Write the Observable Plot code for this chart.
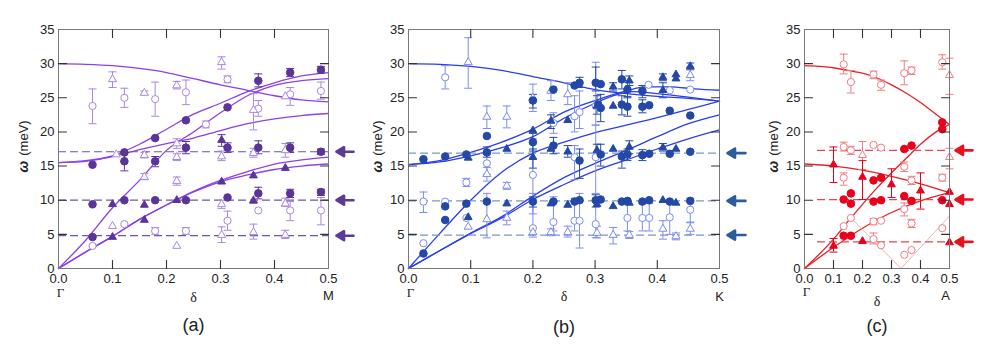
<!DOCTYPE html>
<html><head><meta charset="utf-8">
<script src="https://cdn.jsdelivr.net/npm/d3@7"></script>
<script src="https://cdn.jsdelivr.net/npm/@observablehq/plot@0.6"></script>
<style>
body{margin:0;background:#fff;}
#wrap{position:relative;width:988px;height:346px;overflow:hidden;background:#fff;}
#wrap svg{position:absolute;top:0;overflow:visible;}
</style></head><body><div id="wrap"></div>
<script>
// ---------- shared axis values ----------
const xTicks = [0, 0.1, 0.2, 0.3, 0.4, 0.5];
const yTicks = [0, 5, 10, 15, 20, 25, 30, 35];
const xInner = [0.1, 0.2, 0.3, 0.4];
const yInner = [5, 10, 15, 20, 25, 30];

// ---------- panel (a): Γ–M ----------  points: [δ, ω, errLow, errHigh]
const aFilledCircle = [[0.063,15.2],[0.122,17.0],[0.122,15.7,14.3,16.9],[0.179,19.1],[0.179,15.7,14.9,16.4],[0.236,21.7],[0.236,17.7,16.8,18.6],[0.313,23.6],[0.313,17.7,17.0,18.4],[0.370,27.5,26.6,28.5],[0.370,17.7,16.8,18.7],[0.429,28.7,28.1,29.3],[0.429,17.7,17.0,18.4],[0.486,29.1,28.6,29.6],[0.486,17.1,16.7,17.5],
  [0.063,9.4],[0.063,4.6],[0.122,10.0],[0.179,10.0],[0.236,10.0],[0.313,10.4],[0.370,11.0,10.2,11.9],[0.429,11.0,10.4,11.6],[0.486,11.2,10.7,11.6]];
const aFilledTriangle = [[0.100,9.4],[0.159,9.3],[0.159,7.1],[0.100,4.6],[0.219,10.0],[0.302,12.7],[0.361,13.6],[0.420,14.7],[0.361,9.9],[0.302,18.8,17.9,19.6]];
const aOpenCircle = [[0.063,23.8,21.2,26.3],[0.122,25.0,23.6,26.4],[0.179,24.8,22.3,27.3],[0.236,25.8,24.0,27.6],[0.313,27.7,27.2,28.2],[0.370,23.4,22.3,24.6],[0.429,25.5,23.9,26.5],[0.486,26.0,24.8,27.3],[0.273,21.1,20.6,21.6],
  [0.063,3.3],[0.122,6.5],[0.179,5.5,5.0,6.0],[0.236,5.5,5.0,6.0],[0.370,8.5],[0.313,7.0,5.6,8.4],[0.429,8.5,7.0,9.8],[0.486,8.5,6.4,10.4]];
const aOpenTriangle = [[0.100,27.7,26.5,28.8],[0.159,25.7,25.5,26.0],[0.219,26.8,26.3,27.4],[0.302,30.2,29.2,31.0],[0.361,23.2,20.3,25.6],[0.420,25.2],[0.159,16.6,16.2,17.0],[0.219,16.3,15.8,16.8],[0.219,18.3,17.6,19.0],[0.302,16.4,15.8,17.2],[0.361,16.9,16.3,17.6],[0.420,17.3,16.3,18.3],[0.107,16.7],
  [0.159,13.4,13.0,13.9],[0.219,12.8,12.2,13.4],[0.100,6.2],[0.219,3.3],[0.302,9.4,8.8,10.0],[0.302,4.9,3.8,6.1],[0.361,5.3,4.3,6.5],[0.420,4.9,4.4,5.6],[0.420,9.5,9.1,10.3],[0.361,10.0]];
const aDashLevels = [17.1, 10.0, 4.8];
const aCurveTop = [[0,30],[0.05,29.9],[0.1,29.7],[0.15,29.3],[0.2,28.7],[0.25,27.8],[0.3,26.9],[0.35,26.1],[0.4,25.3],[0.45,24.7],[0.5,24.4]];
const aCurveOptA = [[0,15.5],[0.05,15.7],[0.1,16.5],[0.15,18.2],[0.2,20.4],[0.25,22.6],[0.3,24.2],[0.35,25.9],[0.4,27.2],[0.45,28.2],[0.5,28.7]];
const aCurveOptB = [[0,15.5],[0.05,15.8],[0.1,16.4],[0.15,17.4],[0.2,18.3],[0.25,19.1],[0.3,20.2],[0.35,21.2],[0.4,21.9],[0.45,22.4],[0.5,22.7]];
const aCurveLA = [[0,0],[0.05,4.1],[0.1,8.9],[0.15,12.9],[0.2,17.3],[0.25,20.0],[0.3,22.8],[0.35,25.3],[0.4,26.8],[0.45,27.5],[0.5,27.8]];
const aCurveTA1 = [[0,0],[0.05,2.4],[0.1,4.7],[0.15,7.2],[0.2,9.3],[0.25,11.2],[0.3,12.7],[0.35,13.7],[0.4,14.5],[0.45,15.0],[0.5,15.3]];
const aCurveTA2 = [[0,0],[0.05,2.4],[0.1,4.7],[0.15,7.2],[0.2,9.3],[0.25,11.3],[0.3,12.9],[0.35,14.2],[0.4,15.3],[0.45,15.9],[0.5,16.3]];

// ---------- panel (b): Γ–K ----------
const bFilledCircle = [[0.024,16.0],[0.059,16.4],[0.093,16.7],[0.126,17.0,16.3,17.8],[0.126,19.4],[0.200,24.6,23.5,25.5],[0.200,18.5,17.2,19.8],[0.233,26.2],[0.233,18.0,16.8,19.2],[0.267,26.8],[0.275,27.2,26.5,28.0],[0.275,15.8,13.2,17.5],[0.301,27.2,26.0,29.5],[0.309,27.0],[0.305,24.0],[0.309,23.5,21.5,25.5],[0.309,16.7,15.0,18.2],[0.343,27.7,26.3,29.0],[0.343,24.0,22.5,25.3],[0.352,26.2,25.0,27.5],[0.352,23.7,22.3,25.2],[0.343,16.4,14.7,17.2],[0.352,16.7,15.8,17.5],[0.376,26.0,25.0,26.8],[0.376,23.7,22.8,24.7],[0.387,23.9],[0.376,16.6,15.8,17.4],[0.387,16.8],[0.420,23.1],[0.420,16.8],[0.453,22.4],[0.453,17.1],
  [0.024,2.2],[0.059,7.1],[0.059,9.1],[0.093,9.5],[0.126,9.8],[0.200,9.8,9.0,10.5],[0.233,9.8],[0.267,9.8],[0.275,10.0],[0.301,10.0,9.0,10.8],[0.309,10.1],[0.343,9.8],[0.352,9.9],[0.376,9.8],[0.387,10.0],[0.420,9.8],[0.453,9.9]];
const bFilledTriangle = [[0.096,16.2],[0.158,17.5],[0.200,20.2],[0.200,16.3,14.7,17.5],[0.229,17.5],[0.229,21.6,20.5,22.5],[0.256,17.1,16.3,18.0],[0.256,21.7],[0.303,17.3,16.5,18.2],[0.303,23.8,22.6,25.3],[0.329,17.5],[0.329,23.8],[0.329,26.6,26.0,27.2],[0.355,27.5,26.8,28.2],[0.355,17.8,16.8,18.7],[0.409,28.0,27.5,28.5],[0.409,26.1,25.0,27.2],[0.409,17.7,17.2,18.3],[0.430,28.4],[0.430,27.8],[0.430,17.5],[0.453,29.6,29.1,30.1],
  [0.096,7.5],[0.158,9.5],[0.229,9.5],[0.256,9.3],[0.303,9.4],[0.329,9.1],[0.355,9.6],[0.409,10.0],[0.430,9.6]];
const bOpenCircle = [[0.059,28.0,26.3,29.7],[0.126,15.4,13.8,16.7],[0.200,13.7,8.0,19.0],[0.233,21.3,19.8,22.8],[0.267,22.3,20.0,25.3],[0.275,22.9,20.5,26.0],[0.301,23.8,21.0,30.2],[0.267,16.3,13.0,18.0],[0.301,16.3,11.0,21.0],[0.386,26.9],[0.420,26.1],[0.453,26.2],
  [0.024,9.8,8.2,11.2],[0.024,3.7],[0.059,9.8],[0.093,12.6,12.0,13.2],[0.093,7.4],[0.200,5.9,5.0,11.0],[0.233,6.8,5.5,10.5],[0.267,7.0,5.5,10.3],[0.275,7.0,3.0,11.0],[0.301,6.5,4.5,9.9],[0.352,7.4,5.5,10.0],[0.376,7.4,5.5,9.5],[0.387,7.4,5.5,9.5],[0.420,7.5,5.0,10.0],[0.453,8.6,6.7,10.3]];
const bOpenTriangle = [[0.096,30.2,26.4,33.8],[0.126,22.2,20.5,23.8],[0.158,22.2,20.6,23.8],[0.200,25.0,23.0,27.0],[0.229,26.0,24.6,27.5],[0.256,25.5,24.0,27.2],[0.453,28.3,27.5,29.5],[0.126,13.8,12.8,14.8],
  [0.158,12.1,11.6,12.6],[0.126,7.2,4.5,11.0],[0.158,7.4,6.4,8.4],[0.096,6.1],[0.200,5.3,4.6,6.0],[0.229,5.3,4.8,5.8],[0.256,5.3,4.6,6.2],[0.303,5.2,4.5,6.2],[0.329,4.9,3.6,6.0],[0.355,4.9,4.4,5.4],[0.409,5.8,4.3,7.0],[0.430,4.7,4.2,5.2],[0.453,5.8,5.0,6.8]];
const bDashLevels = [16.9, 9.9, 4.9];
const bCurveTop = [[0,30],[0.05,29.9],[0.1,29.6],[0.15,29.0],[0.2,28.1],[0.25,27.2],[0.3,26.2],[0.35,25.6],[0.4,25.2],[0.45,24.9],[0.5,24.5]];
const bCurveOptA = [[0,15.2],[0.05,15.8],[0.1,17.0],[0.15,18.5],[0.2,20.4],[0.25,22.9],[0.3,24.6],[0.35,26.0],[0.38,26.6],[0.42,26.6],[0.46,26.3],[0.5,26.1]];
const bCurveOptB = [[0,15.2],[0.05,15.6],[0.1,16.5],[0.15,17.7],[0.2,19.3],[0.25,22.0],[0.3,24.2],[0.33,25.3],[0.36,25.9],[0.4,25.6],[0.45,25.1],[0.5,24.5]];
const bCurveLA = [[0,0],[0.05,5.1],[0.1,10.0],[0.15,14.1],[0.2,16.9],[0.25,18.5],[0.3,19.9],[0.35,21.0],[0.4,22.1],[0.45,23.3],[0.5,24.5]];
const bCurveTA1 = [[0,0],[0.05,2.6],[0.1,5.2],[0.15,7.6],[0.2,10.6],[0.25,13.3],[0.3,15.4],[0.35,17.3],[0.4,19.3],[0.45,21.2],[0.5,22.5]];
const bCurveTA2 = [[0,0],[0.05,2.6],[0.1,5.1],[0.15,7.4],[0.2,10.1],[0.25,12.3],[0.3,14.3],[0.35,15.9],[0.4,17.5],[0.45,19.0],[0.5,20.3]];

// ---------- panel (c): Γ–A ----------
const cFilledCircle = [[0.475,21.4],[0.475,20.4],[0.344,17.5],[0.369,18.0],[0.238,12.9],[0.264,13.3],[0.135,10.1],[0.160,11.0],[0.160,9.5],[0.238,9.8],[0.264,10.0],[0.344,10.6],[0.369,9.9],[0.475,10.0],[0.135,4.8],[0.160,4.8]];
const cFilledTriangle = [[0.100,15.2,12.6,17.8],[0.200,13.4,10.1,15.8],[0.300,12.3,10.4,14.6],[0.400,11.4,8.7,14.0],[0.100,3.3,2.4,4.4],[0.200,4.0],[0.500,3.8],[0.500,9.4],[0.500,11.2]];
const cOpenCircle = [[0.135,29.9,28.5,31.4],[0.160,27.3,25.7,29.0],[0.238,28.4,27.8,28.9],[0.264,26.9,26.1,27.6],[0.344,28.6,26.9,30.4],[0.369,29.0,28.4,29.5],[0.475,30.2,29.2,31.3],
  [0.135,17.8,17.2,18.5],[0.160,17.3,16.7,17.9],[0.238,18.1],[0.264,17.7],[0.344,14.9,14.2,15.6],[0.135,13.3,12.2,14.0],[0.369,12.9,12.3,13.5],[0.475,13.3,12.8,13.8],
  [0.135,6.2],[0.160,7.4],[0.238,6.9,6.4,7.3],[0.264,7.0],[0.344,8.7,7.7,9.6],[0.369,6.6,6.0,7.2],[0.475,5.9],[0.238,4.3,3.6,5.2],[0.264,3.4],[0.344,2.0],[0.369,2.7]];
const cOpenTriangle = [[0.200,16.6,14.5,18.6],[0.500,28.3,25.5,30.8],[0.500,16.3,14.6,17.6]];
const cDashLevels = [17.3, 10.1, 3.9];
const cCurveTop = [[0,29.7],[0.05,29.6],[0.1,29.4],[0.15,29.0],[0.2,28.6],[0.25,27.9],[0.3,26.9],[0.35,25.7],[0.4,24.3],[0.45,22.7],[0.5,21.1]];
const cCurveRise = [[0,0],[0.1,4.3],[0.15,6.9],[0.2,9.4],[0.25,11.8],[0.3,14.0],[0.35,16.1],[0.4,18.2],[0.45,19.9],[0.5,21.1]];
const cCurveMid = [[0,15.3],[0.1,15.0],[0.2,14.4],[0.3,13.5],[0.4,12.4],[0.5,11.1]];
const cCurveLow = [[0,0],[0.1,3.1],[0.2,5.9],[0.3,8.2],[0.4,9.9],[0.5,11.1]];
const cThinV = [[0.16,7.4],[0.333,0],[0.5,7.7]];

// ---------- drawing ----------
const FONT = "'Liberation Sans', Arial, Helvetica, sans-serif";
const SERIF = "'Liberation Serif', 'Times New Roman', serif";
const pts = arr => arr.map(([x, y, lo, hi]) => ({x, y, lo, hi}));
const withErr = arr => pts(arr).filter(d => d.lo != null);
const tickShape = {draw(ctx, l) { ctx.moveTo(0, 0); ctx.lineTo(0, -l); }};
const arrowShape = {draw(ctx, l) { const h = 7.5, w = 4.5; ctx.moveTo(0, 0); ctx.lineTo(0, -l + h); ctx.moveTo(0, -l); ctx.lineTo(-w, -l + h); ctx.lineTo(w, -l + h); ctx.closePath(); }};
const capSymbol = {draw(ctx) { ctx.moveTo(-4, 0); ctx.lineTo(4, 0); }};

function panel(cfg) {
  const c = cfg.colors;
  const marks = [];
  for (const cv of cfg.curves) marks.push(Plot.line(cv, {x: d => d[0], y: d => d[1], stroke: c.line, strokeWidth: 1.3, curve: "monotone-x"}));
  if (cfg.thin) marks.push(Plot.line(cfg.thin, {x: d => d[0], y: d => d[1], stroke: c.thin, strokeWidth: 0.9}));
  marks.push(Plot.ruleY(cfg.dashes, {x1: cfg.dashStart, x2: 0.5, stroke: c.dash, strokeWidth: 1.2, strokeDasharray: "8,4"}));
  marks.push(Plot.vector(cfg.dashes, {x: 0.5, y: d => d, rotate: -90, length: cfg.arrowLen, anchor: "end", dx: cfg.arrowDx, shape: arrowShape, stroke: c.arrow, fill: c.arrow, strokeWidth: 2.6}));
  const groups = [
    {data: cfg.openC, col: c.light, sym: "circle", fill: "white", r: 3.6},
    {data: cfg.openT, col: c.light, sym: "triangle", fill: "white", r: 3.0},
    {data: cfg.filledC, col: c.dark, sym: "circle", fill: c.dark, r: 3.8},
    {data: cfg.filledT, col: c.dark, sym: "triangle", fill: c.dark, r: 2.9}
  ];
  for (const g of groups) {
    const e = withErr(g.data);
    marks.push(Plot.ruleX(e, {x: "x", y1: "lo", y2: "hi", stroke: g.col, strokeWidth: 1}));
    marks.push(Plot.dot(e, {x: "x", y: "lo", symbol: capSymbol, stroke: g.col, fill: "none", strokeWidth: 1}));
    marks.push(Plot.dot(e, {x: "x", y: "hi", symbol: capSymbol, stroke: g.col, fill: "none", strokeWidth: 1}));
  }
  for (const g of groups) {
    marks.push(Plot.dot(pts(g.data), {x: "x", y: "y", symbol: g.sym, r: g.r, fill: g.fill, stroke: g.col, strokeWidth: 1}));
  }
  marks.push(Plot.frame({stroke: "#7a7a7a", strokeWidth: 1}));
  marks.push(Plot.vector(xInner, {x: d => d, y: 0, length: 8, rotate: 0, anchor: "start", shape: tickShape, stroke: "#333", strokeWidth: 1.1}));
  marks.push(Plot.vector(xInner, {x: d => d, y: 35, length: 8, rotate: 180, anchor: "start", shape: tickShape, stroke: "#333", strokeWidth: 1.1}));
  marks.push(Plot.vector(yInner, {x: 0, y: d => d, length: 8, rotate: 90, anchor: "start", shape: tickShape, stroke: "#333", strokeWidth: 1.1}));
  marks.push(Plot.vector(yInner, {x: 0.5, y: d => d, length: 8, rotate: -90, anchor: "start", shape: tickShape, stroke: "#333", strokeWidth: 1.1}));
  marks.push(Plot.axisX(xTicks, {tickSize: 0, tickPadding: 5, tickFormat: d3.format(".1f"), fontSize: 13, label: null, fill: "#222"}));
  marks.push(Plot.axisY(yTicks, {tickSize: 0, tickPadding: 4, fontSize: 13, label: null, fill: "#222"}));
  marks.push(Plot.text(["Γ"], {x: 0, y: 0, dx: 2, dy: cfg.gammaDy, fontFamily: SERIF, fontSize: 13, fill: "#222"}));
  marks.push(Plot.text(["δ"], {x: 0.25, y: 0, dy: cfg.deltaDy, fontFamily: SERIF, fontSize: 14, fill: "#222"}));
  marks.push(Plot.text([cfg.endLabel], {x: 0.5, y: 0, dx: cfg.endDx, dy: cfg.endDy, fontFamily: FONT, fontSize: 13, fill: "#222"}));
  marks.push(Plot.text([cfg.tag], {x: 0.25, y: 0, dy: cfg.tagDy, fontFamily: FONT, fontSize: 18, fill: "#222"}));
  marks.push(Plot.text(["ω"], {x: 0, y: 14.9, dx: cfg.ylabDx, rotate: -90, fontFamily: FONT, fontSize: 14, fontWeight: "bold", fontStyle: "italic", fill: "#222"}));
  marks.push(Plot.text(["(meV)"], {x: 0, y: 19.1, dx: cfg.ylabDx, rotate: -90, fontFamily: FONT, fontSize: 13, fill: "#222"}));

  const svg = Plot.plot({
    width: cfg.width, height: 346,
    marginLeft: cfg.mL, marginRight: cfg.mR, marginTop: 29, marginBottom: 78,
    x: {domain: [0, 0.5]}, y: {domain: [0, 35]},
    style: {fontFamily: FONT, fontSize: "13px", color: "#222", background: "transparent", overflow: "visible"},
    marks
  });
  svg.style.left = cfg.left + "px";
  document.getElementById("wrap").appendChild(svg);
}

panel({
  left: 0, width: 360, mL: 58, mR: 32,
  colors: {line: "#8b3ff0", dark: "#5b3498", light: "#a986e6", dash: "#6c5a9e", arrow: "#5a3c98"},
  curves: [aCurveTop, aCurveOptA, aCurveOptB, aCurveLA, aCurveTA1, aCurveTA2],
  dashes: aDashLevels, dashStart: 0,
  filledC: aFilledCircle, filledT: aFilledTriangle, openC: aOpenCircle, openT: aOpenTriangle,
  arrowDx: 8, arrowLen: 17, endLabel: "M", endDx: 0, endDy: 27, gammaDy: 24, deltaDy: 29, tagDy: 57, tag: "(a)", ylabDx: -35
});
panel({
  left: 360, width: 395, mL: 48, mR: 36,
  colors: {line: "#2a3cf2", dark: "#2448a6", light: "#7d8cf0", dash: "#7a98c6", arrow: "#2b5c9e"},
  curves: [bCurveTop, bCurveOptA, bCurveOptB, bCurveLA, bCurveTA1, bCurveTA2],
  dashes: bDashLevels, dashStart: 0,
  filledC: bFilledCircle, filledT: bFilledTriangle, openC: bOpenCircle, openT: bOpenTriangle,
  arrowDx: 8, arrowLen: 18, endLabel: "K", endDx: 0, endDy: 28, gammaDy: 24, deltaDy: 28, tagDy: 59, tag: "(b)", ylabDx: -31
});
panel({
  left: 755, width: 233, mL: 49, mR: 39,
  colors: {line: "#ee1d24", dark: "#e8001c", light: "#f07d84", dash: "#e4474f", arrow: "#e8101c", thin: "#f6a5a9"},
  curves: [cCurveTop, cCurveRise, cCurveMid, cCurveLow], thin: cThinV,
  dashes: cDashLevels, dashStart: 0.045,
  filledC: cFilledCircle, filledT: cFilledTriangle, openC: cOpenCircle, openT: cOpenTriangle,
  arrowDx: 6, arrowLen: 17, endLabel: "A", endDx: -4, endDy: 27, gammaDy: 23, deltaDy: 33, tagDy: 58, tag: "(c)", ylabDx: -31
});
</script></body></html>
